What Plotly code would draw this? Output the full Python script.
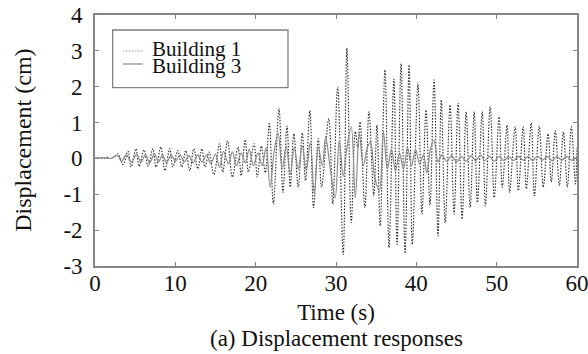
import plotly.graph_objects as go

# Building 1: turning points of the displacement history (time in s, displacement in cm)
b1_time = [0, 0.5, 1.0, 1.5, 2.0, 2.4, 2.85, 3.5, 4.1, 4.5, 5.1, 5.5, 6.1, 6.6, 7.2, 7.6,
           8.2, 8.7, 9.3, 9.7, 10.3, 10.8, 11.3, 11.8, 12.3, 12.8, 13.3, 13.7, 14.2, 14.8,
           15.5, 15.9, 16.5, 17.1, 17.8, 18.2, 18.7, 19.1, 19.8, 20.2, 20.7, 21.2, 21.7,
           22.2, 22.9, 23.4, 23.9, 24.3, 24.75, 25.3, 25.8, 26.2, 26.75, 27.2, 27.8, 28.2,
           29.1, 29.6, 30.2, 30.9, 31.35, 31.9, 32.4, 32.7, 33.0, 33.6, 34.1, 34.7, 35.1,
           35.5, 36.1, 36.6, 37.2, 37.6, 38.1, 38.6, 39.1, 39.5, 40.2, 40.7, 41.2, 41.7,
           42.2, 42.7, 43.1, 43.6, 44.2, 44.7, 45.2, 45.7, 46.2, 46.7, 47.2, 47.6, 48.2,
           48.6, 49.2, 49.7, 50.3, 50.7, 51.3, 51.6, 52.3, 52.7, 53.3, 53.7, 54.3, 54.7,
           55.3, 55.8, 56.4, 56.8, 57.3, 57.8, 58.3, 58.8, 59.3, 59.8, 60.0]
b1_disp = [0, 0.02, 0.0, 0.03, 0.0, 0.05, 0.13, -0.17, 0.2, -0.24, 0.27, -0.22, 0.24, -0.22,
           0.27, -0.24, 0.32, -0.34, 0.27, -0.24, 0.22, -0.24, 0.22, -0.34, 0.27, -0.29,
           0.27, -0.24, 0.18, -0.45, 0.41, -0.38, 0.49, -0.52, 0.32, -0.48, 0.52, -0.38,
           0.41, -0.52, 0.34, -0.4, 0.97, -1.27, 1.4, -0.95, 0.9, -0.8, 0.69, -0.8, 0.71,
           -0.62, 1.33, -1.37, 0.55, -0.8, 1.11, -1.27, 2.0, -2.68, 3.08, -1.79, 0.75,
           0.3, 1.02, -1.37, 1.3, -1.04, 0.93, -1.88, 2.47, -2.49, 2.21, -2.4, 2.64, -2.65,
           2.61, -2.4, 2.1, -1.55, 1.35, -1.3, 2.19, -2.16, 1.63, -1.79, 1.49, -1.55, 1.54,
           -1.69, 1.3, -1.37, 1.3, -1.23, 1.3, -1.32, 1.44, -1.09, 1.16, -0.8, 0.93, -0.95,
           0.88, -0.9, 0.88, -0.85, 0.99, -1.04, 0.9, -0.8, 0.69, -0.66, 0.77, -0.76, 0.74,
           -0.8, 0.88, -0.71, 0.3]

# Building 3: turning points of the displacement history (time in s, displacement in cm)
b3_time = [0, 1.0, 2.0, 2.8, 3.3, 3.9, 4.5, 5.2, 5.7, 6.3, 6.8, 7.4, 7.9, 8.4, 8.9, 9.5,
           10.0, 10.6, 11.1, 11.7, 12.2, 12.8, 13.3, 13.9, 14.4, 15.0, 15.5, 16.0, 16.6,
           17.1, 17.6, 18.2, 18.7, 19.2, 19.7, 20.3, 20.8, 21.3, 21.8, 22.3, 22.8, 23.3,
           23.8, 24.3, 24.8, 25.3, 25.8, 26.3, 26.8, 27.3, 27.8, 28.3, 28.7, 29.3, 29.9,
           30.4, 30.9, 31.3, 31.9, 32.4, 32.9, 33.4, 33.9, 34.3, 34.8, 35.4, 35.9, 36.4,
           36.9, 37.4, 37.9, 38.4, 38.9, 39.4, 39.9, 40.4, 40.9, 41.3, 41.8, 42.2, 42.7,
           43.2, 43.8, 44.4, 45.0, 45.6, 46.2, 46.8, 47.4, 48.0, 48.5, 49.1, 49.7, 50.3,
           50.9, 51.5, 52.1, 52.7, 53.3, 53.9, 54.5, 55.1, 55.7, 56.3, 56.9, 57.5, 58.1,
           58.7, 59.3, 60.0]
b3_disp = [0, 0.02, 0, 0.08, -0.08, 0.1, -0.1, 0.12, -0.1, 0.1, -0.12, 0.12, -0.1, 0.1,
           -0.12, 0.1, -0.08, 0.1, -0.1, 0.08, -0.12, 0.1, -0.1, 0.1, -0.15, 0.12, -0.25,
           0.2, -0.15, 0.18, -0.2, 0.15, -0.12, 0.25, -0.2, 0.15, -0.2, 0.3, -0.8, 0.2,
           0.7, -0.3, 0.35, -0.45, 0.3, -0.3, 0.35, -0.35, 0.45, -1.0, 0.3, -0.2, 0.6,
           -0.3, -1.1, 0.5, -0.5, 0.2, 0.88, -1.1, 0.7, -0.2, 0.3, 0.45, -0.5, -0.9, 0.75,
           -0.3, 0.25, -0.35, 0.15, -0.3, 0.3, -0.2, 0.25, -0.15, 0.1, -0.4, 0.3, 0.5,
           -0.1, 0.1, -0.08, 0.08, -0.1, 0.06, -0.08, 0.08, -0.06, 0.1, -0.06, 0.06, -0.08,
           0.06, -0.06, 0.05, -0.06, 0.06, -0.05, 0.05, -0.06, 0.06, -0.05, 0.05, -0.06,
           0.05, -0.05, 0.06, -0.05, 0.05]

series_names = ["Building 1", "Building 3"]
x_ticks = [0, 10, 20, 30, 40, 50, 60]
y_ticks = [-3, -2, -1, 0, 1, 2, 3, 4]

SERIF = "Liberation Serif"
B1_LINE = dict(color="#2a2a2a", width=1.1, dash="1.5px,1.5px")
B3_LINE = dict(color="#8a8a8a", width=1.2)

fig = go.Figure()
fig.add_trace(go.Scatter(
    x=b1_time, y=b1_disp, mode="lines", name=series_names[0], showlegend=False,
    line=dict(shape="spline", smoothing=1.0, **B1_LINE),
))
fig.add_trace(go.Scatter(
    x=b3_time, y=b3_disp, mode="lines", name=series_names[1], showlegend=False,
    line=dict(shape="spline", smoothing=1.0, **B3_LINE),
))

axis_common = dict(
    showline=True, linecolor="#858585", linewidth=1.6, mirror="ticks",
    ticks="inside", ticklen=4, tickcolor="#858585", showgrid=False, zeroline=False,
    tickfont=dict(family=SERIF, size=23, color="#111111"),
    ticklabeloverflow="allow",
)

# Boxed key in the upper-left corner: sample line + label for each series
legend_rows_y = [0.8566, 0.8048]
legend_text_y = [0.8626, 0.7968]
legend_lines = [dict(color="#9a9a9a", width=1.1, dash="1.5px,1.5px"), dict(color="#8a8a8a", width=1.2)]
shapes = [dict(type="rect", xref="paper", yref="paper",
               x0=0.0366, x1=0.4004, y0=0.7104, y1=0.9402,
               line=dict(color="#808080", width=1.3), fillcolor="rgba(0,0,0,0)")]
annotations = []
for name, ly, ty, ln in zip(series_names, legend_rows_y, legend_text_y, legend_lines):
    shapes.append(dict(type="line", xref="paper", yref="paper",
                       x0=0.0581, x1=0.0990, y0=ly, y1=ly, line=ln))
    annotations.append(dict(text=name, xref="paper", yref="paper", x=0.1145, y=ty,
                            xanchor="left", yanchor="middle", showarrow=False,
                            font=dict(family=SERIF, size=21, color="#111111")))

# Vertical axis title and figure caption
annotations.append(dict(text="Displacement (cm)", xref="paper", yref="paper",
                        x=-0.151, y=0.5, xanchor="center", yanchor="middle",
                        textangle=-90, showarrow=False,
                        font=dict(family=SERIF, size=24, color="#111111")))
annotations.append(dict(text="(a) Displacement responses", xref="paper", yref="paper",
                        x=0.5, y=-0.287, xanchor="center", yanchor="middle", showarrow=False,
                        font=dict(family=SERIF, size=23, color="#111111")))

fig.update_layout(
    template="none",
    width=588, height=354,
    margin=dict(l=95, r=11, t=15, b=88),
    paper_bgcolor="white", plot_bgcolor="white",
    font=dict(family=SERIF, color="#111111"),
    showlegend=False,
    xaxis=dict(range=[0, 60], tickvals=x_ticks, ticktext=[str(v) for v in x_ticks],
               ticklabelstandoff=-4,
               title=dict(text="Time (s)", font=dict(family=SERIF, size=23), standoff=8),
               **axis_common),
    yaxis=dict(range=[-3, 4], tickvals=y_ticks, ticktext=[str(v) for v in y_ticks],
               ticklabelstandoff=6,
               **axis_common),
    shapes=shapes,
    annotations=annotations,
)

fig.write_html("out.html")
